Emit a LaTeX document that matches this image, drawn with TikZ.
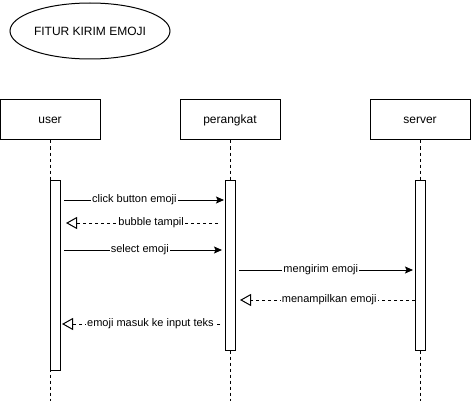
\documentclass[tikz,border=0pt]{standalone}
\usepackage{fontspec}
\setmainfont{Liberation Sans}
\usetikzlibrary{shapes.geometric, arrows.meta}

\begin{document}
\begin{tikzpicture}[x=1pt, y=-1pt, line width=1pt,
    actor/.style={draw, minimum width=100pt, minimum height=40pt, font=\fontsize{12}{14}\selectfont},
    bar/.style={draw, fill=white, minimum width=10pt, inner sep=0pt},
    life/.style={dash pattern=on 3pt off 3pt},
    call/.style={-{Stealth[length=8pt, width=7pt, inset=1.5pt]}},
    reply/.style={dash pattern=on 3pt off 3pt, -{Triangle[open, length=11pt, width=12pt]}},
    msg/.style={fill=white, inner sep=1pt, font=\fontsize{11}{13}\selectfont}]
    \useasboundingbox (0,0) rectangle (471,401);
    \node[draw, ellipse, inner sep=0pt, minimum width=160pt, minimum height=56pt, font=\fontsize{12}{14}\selectfont] (title) at (90,31) {FITUR KIRIM EMOJI};
    \node[actor] (user) at (50,120) {user};
    \node[actor] (perangkat) at (230,120) {perangkat};
    \node[actor] (server) at (420,120) {server};
    \coordinate (userEnd) at (50,401);
    \coordinate (perangkatEnd) at (230,401);
    \coordinate (serverEnd) at (420,401);
    \draw[life] (user.south) -- (userEnd);
    \draw[life] (perangkat.south) -- (perangkatEnd);
    \draw[life] (server.south) -- (serverEnd);
    \node[bar, minimum height=190pt] (userBar) at (55,275) {};
    \node[bar, minimum height=170pt] (perangkatBar) at (230,265) {};
    \node[bar, minimum height=170pt] (serverBar) at (420,265) {};
    \coordinate (m1a) at (64,200);
    \coordinate (m1b) at (224,200);
    \coordinate (m2a) at (218,223);
    \coordinate (m2b) at (66,223);
    \coordinate (m3a) at (64,250);
    \coordinate (m3b) at (222,250);
    \coordinate (m4a) at (239,270);
    \coordinate (m4b) at (413,270);
    \coordinate (m5a) at (415,300);
    \coordinate (m5b) at (240,300);
    \coordinate (m6a) at (220,324);
    \coordinate (m6b) at (62,324);
    \draw[call] (m1a) -- node[msg, pos=0.44] (click) {click button emoji} (m1b);
    \draw[reply] (m2a) -- node[msg, pos=0.44] (bubble) {bubble tampil} (m2b);
    \draw[call] (m3a) -- node[msg, pos=0.48] (select) {select emoji} (m3b);
    \draw[call] (m4a) -- node[msg, pos=0.47] (kirim) {mengirim emoji} (m4b);
    \draw[reply] (m5a) -- node[msg, pos=0.49] (tampil) {menampilkan emoji} (m5b);
    \draw[reply] (m6a) -- node[msg, pos=0.44] (masuk) {emoji masuk ke input teks} (m6b);
\end{tikzpicture}
\end{document}
